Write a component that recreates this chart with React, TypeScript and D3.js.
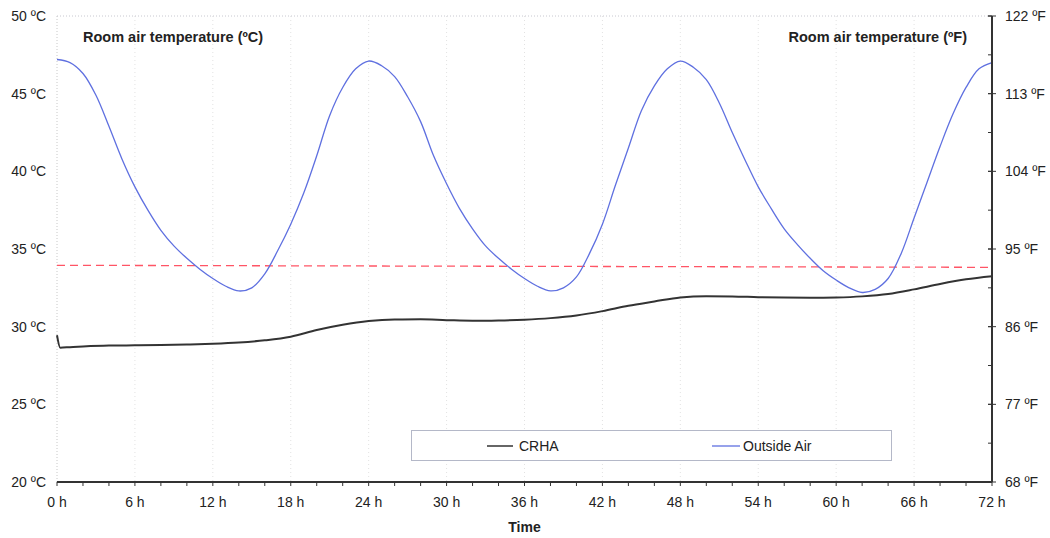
import * as d3 from "d3";

const hours = d3.range(0, 73);
// Outside air temperature (ºC), one reading per hour, 0 h .. 72 h
const outsideAir = [
  47.2, 47.0, 46.3, 44.9, 42.9, 40.8, 39.0, 37.5, 36.2, 35.2, 34.4, 33.7, 33.1,
  32.6, 32.3, 32.5, 33.4, 34.9, 36.6, 38.6, 41.0, 43.6, 45.4, 46.6, 47.1, 46.8,
  46.1, 44.8, 43.2, 41.0, 39.2, 37.6, 36.3, 35.2, 34.4, 33.7, 33.1, 32.6, 32.3,
  32.5, 33.2, 34.7, 36.6, 39.1, 41.5, 43.9, 45.5, 46.6, 47.1, 46.7, 45.9, 44.4,
  42.5, 40.7, 39.0, 37.6, 36.3, 35.3, 34.4, 33.6, 33.0, 32.5, 32.2, 32.4, 33.1,
  34.7, 37.0, 39.3, 41.6, 43.7, 45.4, 46.6, 47.0,
];

const crhaHours = [
  0, 0.25, 1, 2, 4, 6, 8, 10, 12, 14, 16, 18, 20, 22, 24, 26, 28, 30, 32, 34,
  36, 38, 40, 42, 44, 46, 48, 50, 52, 54, 56, 58, 60, 62, 64, 66, 68, 70, 72,
];
const crha = [
  29.45, 28.65, 28.68, 28.72, 28.78, 28.8, 28.82, 28.85, 28.9, 28.98, 29.12,
  29.35, 29.78, 30.12, 30.36, 30.46, 30.47, 30.42, 30.38, 30.4, 30.45, 30.55,
  30.72, 31.0, 31.35, 31.62, 31.88, 31.96, 31.95, 31.9, 31.87, 31.86, 31.88,
  31.95, 32.1, 32.4, 32.75, 33.05, 33.25,
];

// red dashed reference line
const refHours = [0, 72];
const refTemp = [33.95, 33.82];

const celsiusTicks = [20, 25, 30, 35, 40, 45, 50];
const fahrenheitTicks = [68, 77, 86, 95, 104, 113, 122];
const hourTicks = d3.range(0, 73, 6);

const W = 1050;
const H = 538;
const left = 57;
const right = 992;
const top = 16;
const bottom = 482;
const font = "'Liberation Sans', Arial, sans-serif";

export default function App() {
  const x = d3.scaleLinear().domain([0, 72]).range([left, right]);
  const y = d3.scaleLinear().domain([20, 50]).range([bottom, top]);
  const yF = d3.scaleLinear().domain([68, 122]).range([bottom, top]);

  const airLine = d3
    .line<number>()
    .x((_, i) => x(hours[i]))
    .y((d) => y(d))
    .curve(d3.curveCatmullRom);
  const crhaLine = d3
    .line<number>()
    .x((_, i) => x(crhaHours[i]))
    .y((d) => y(d))
    .curve(d3.curveMonotoneX);
  const refLine = d3
    .line<number>()
    .x((_, i) => x(refHours[i]))
    .y((d) => y(d));

  const minorX = d3.range(0, 73, 2);
  const minorF = d3.range(68, 122.1, 4.5);

  return (
    <svg
      width={W}
      height={H}
      style={{ position: "absolute", left: 0, top: 0, background: "#fff" }}
      fontFamily={font}
    >
      {/* faint dotted grid */}
      {hourTicks.slice(1, -1).map((h) => (
        <line
          key={"g" + h}
          x1={x(h)}
          x2={x(h)}
          y1={top}
          y2={bottom}
          stroke="#e2e2e2"
          strokeDasharray="1,3"
        />
      ))}
      <line x1={left} x2={right} y1={top} y2={top} stroke="#c8c8d0" strokeDasharray="1,2" />
      <line x1={left} x2={left} y1={top} y2={bottom} stroke="#c8c8c8" strokeDasharray="1,2" />

      {/* series */}
      <path
        d={refLine(refTemp) ?? ""}
        fill="none"
        stroke="#ff5566"
        strokeWidth={1.3}
        strokeDasharray="8,5"
      />
      <path d={airLine(outsideAir) ?? ""} fill="none" stroke="#5f70e0" strokeWidth={1.3} />
      <path d={crhaLine(crha) ?? ""} fill="none" stroke="#333" strokeWidth={2} />

      {/* bottom axis */}
      <line x1={left} x2={right} y1={bottom} y2={bottom} stroke="#333" strokeWidth={2} />
      {minorX.map((h) => (
        <line key={"xt" + h} x1={x(h)} x2={x(h)} y1={bottom} y2={bottom + 4} stroke="#333" />
      ))}
      {hourTicks.map((h) => (
        <text key={"xl" + h} x={x(h)} y={507} textAnchor="middle" fontSize={14} fill="#222">
          {h} h
        </text>
      ))}
      <text x={(left + right) / 2} y={532} textAnchor="middle" fontSize={14} fontWeight="bold" fill="#222">
        Time
      </text>

      {/* left axis labels */}
      {celsiusTicks.map((c) => (
        <text key={"yl" + c} x={46} y={y(c) + 5} textAnchor="end" fontSize={14} fill="#222">
          {c} ºC
        </text>
      ))}

      {/* right axis */}
      <line x1={right} x2={right} y1={top} y2={bottom} stroke="#333" strokeWidth={2} />
      {minorF.map((f) => (
        <line key={"ft" + f} x1={right - 4} x2={right} y1={yF(f)} y2={yF(f)} stroke="#333" />
      ))}
      {fahrenheitTicks.map((f) => (
        <g key={"fl" + f}>
          <line x1={right - 4} x2={right + 4} y1={yF(f)} y2={yF(f)} stroke="#333" />
          <text x={1005} y={yF(f) + 5} fontSize={14} fill="#222">
            {f} ºF
          </text>
        </g>
      ))}

      {/* titles */}
      <text x={83} y={42} fontSize={14.5} fontWeight="bold" fill="#222">
        Room air temperature (ºC)
      </text>
      <text x={967} y={42} textAnchor="end" fontSize={14.5} fontWeight="bold" fill="#222">
        Room air temperature (ºF)
      </text>

      {/* legend */}
      <rect x={411.5} y={430.5} width={480} height={30} fill="#fff" stroke="#b4b8c8" />
      <line x1={487} x2={513} y1={446} y2={446} stroke="#333" strokeWidth={1.5} />
      <text x={519} y={451} fontSize={14} fill="#222">
        CRHA
      </text>
      <line x1={712} x2={740} y1={446} y2={446} stroke="#5f70e0" strokeWidth={1.3} />
      <text x={743} y={451} fontSize={14} fill="#222">
        Outside Air
      </text>
    </svg>
  );
}
